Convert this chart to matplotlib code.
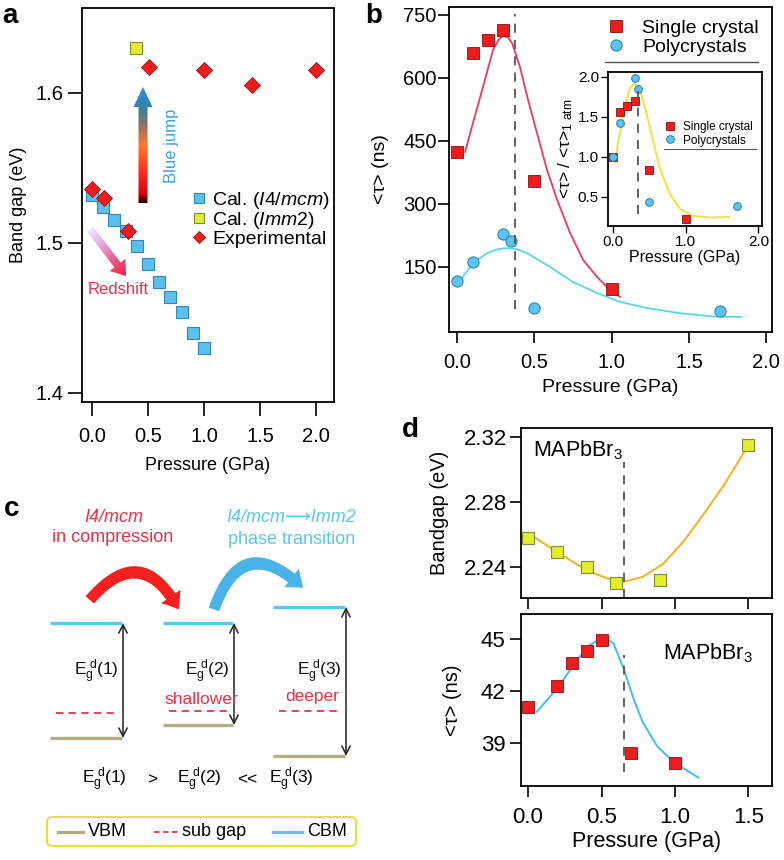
import numpy as np
import matplotlib
matplotlib.use("Agg")
import matplotlib.pyplot as plt
from matplotlib.patches import Polygon, FancyArrowPatch, FancyBboxPatch
from matplotlib.colors import LinearSegmentedColormap
from matplotlib.ticker import FormatStrFormatter, FixedLocator

plt.rcParams["font.family"] = ["Liberation Sans", "DejaVu Sans"]
plt.rcParams["mathtext.fontset"] = "custom"
plt.rcParams["mathtext.rm"] = "Liberation Sans"
plt.rcParams["mathtext.it"] = "Liberation Sans:italic"
plt.rcParams["axes.linewidth"] = 1.3

# ---- panel a: band gap vs pressure ----
a_cal_i4_p = [0.0, 0.1, 0.2, 0.3, 0.4, 0.5, 0.6, 0.7, 0.8, 0.9, 1.0]
a_cal_i4_gap = [1.532, 1.524, 1.515, 1.508, 1.498, 1.486, 1.474, 1.464, 1.454, 1.440, 1.430]
a_cal_imm2_p = [0.39]
a_cal_imm2_gap = [1.630]
a_exp_p = [0.0, 0.11, 0.32, 0.51, 1.0, 1.43, 2.0]
a_exp_gap = [1.536, 1.530, 1.508, 1.617, 1.615, 1.605, 1.615]

# ---- panel b: lifetime vs pressure ----
b_single_p = [0.0, 0.1, 0.2, 0.3, 0.5, 1.0]
b_single_tau = [424, 660, 690, 714, 355, 98]
b_poly_p = [0.0, 0.1, 0.3, 0.35, 0.5, 1.7]
b_poly_tau = [117, 162, 228, 212, 52, 45]
b_single_fit_p = [0.052, 0.103, 0.168, 0.233, 0.27, 0.298, 0.33, 0.356, 0.407, 0.459,
                  0.517, 0.582, 0.647, 0.731, 0.815, 0.906, 0.990, 1.054]
b_single_fit_tau = [424, 493, 579, 667, 692, 700, 697, 683, 626, 548,
                    469, 381, 310, 231, 167, 126, 95, 79]
b_poly_fit_p = [0.032, 0.103, 0.194, 0.26, 0.323, 0.39, 0.453, 0.602, 0.75, 0.906,
                1.054, 1.23, 1.44, 1.66, 1.84]
b_poly_fit_tau = [124, 159, 183, 192, 195, 192, 183, 150, 114, 88, 67, 52, 40, 32, 31]

# inset: normalised lifetime
ins_single_p = [0.0, 0.1, 0.2, 0.3, 0.5, 1.0]
ins_single_ratio = [1.0, 1.56, 1.63, 1.70, 0.84, 0.22]
ins_poly_p = [0.0, 0.1, 0.3, 0.35, 0.5, 1.7]
ins_poly_ratio = [1.0, 1.42, 1.98, 1.85, 0.43, 0.38]
ins_fit_p = [0.027, 0.07, 0.14, 0.21, 0.25, 0.29, 0.33, 0.36, 0.44, 0.53, 0.64, 0.78,
             0.92, 1.10, 1.37, 1.60]
ins_fit_ratio = [0.93, 1.17, 1.50, 1.80, 1.88, 1.91, 1.89, 1.86, 1.62, 1.29, 0.87, 0.54,
                 0.35, 0.26, 0.24, 0.25]

# ---- panel d: MAPbBr3 ----
d_gap_p = [0.0, 0.2, 0.4, 0.6, 0.9, 1.5]
d_gap = [2.258, 2.249, 2.240, 2.230, 2.232, 2.315]
d_gap_fit_p = [0.0, 0.2, 0.4, 0.54, 0.65, 0.78, 0.92, 1.06, 1.19, 1.33, 1.5]
d_gap_fit = [2.261, 2.249, 2.238, 2.233, 2.231, 2.234, 2.242, 2.256, 2.272, 2.290, 2.315]
d_tau_p = [0.0, 0.2, 0.3, 0.4, 0.5, 0.7, 1.0]
d_tau = [41.08, 42.29, 43.63, 44.33, 44.94, 38.44, 37.83]
d_tau_fit_p = [0.06, 0.2, 0.334, 0.42, 0.51, 0.58, 0.65, 0.72, 0.78, 0.88, 0.99, 1.16]
d_tau_fit = [40.8, 42.17, 43.79, 44.65, 45.1, 44.77, 43.3, 41.5, 40.2, 38.8, 37.9, 37.0]

W, H = 784, 860
BLUE_SQ = dict(marker="s", ls="none", mfc="#5cc0ec", mec="#2f86b8", mew=0.8)
RED_SQ = dict(marker="s", ls="none", mfc="#ee1c1c", mec="#8a1010", mew=0.6)
YEL_SQ = dict(marker="s", ls="none", mfc="#e4ee2a", mec="#7e8c3e", mew=0.8)
CIRC = dict(marker="o", ls="none", mfc="#5cc4f0", mec="#2f86b8", mew=0.8)
DASH = dict(color="#555555", lw=1.3, ls=(0, (5, 4)))


def px_axes(fig, x0, y0, x1, y1):
    return fig.add_axes([x0 / W, 1 - y1 / H, (x1 - x0) / W, (y1 - y0) / H])


def style(ax, size, length=8, xpad=2, ypad=2):
    ax.tick_params(direction="out", length=length, width=1.2, labelsize=size,
                   top=False, right=False)
    ax.tick_params(axis="x", pad=xpad)
    ax.tick_params(axis="y", pad=ypad)


fig = plt.figure(figsize=(W / 100, H / 100), dpi=100)

# === panel a ===
ax_a = px_axes(fig, 82, 8, 334, 402)
ax_a.plot(a_cal_i4_p, a_cal_i4_gap, ms=9, label=r"Cal. ($\mathit{I4/mcm}$)", **BLUE_SQ)
ax_a.plot(a_cal_imm2_p, a_cal_imm2_gap, ms=9, label=r"Cal. ($\mathit{Imm2}$)", **YEL_SQ)
ax_a.plot(a_exp_p, a_exp_gap, marker="D", ls="none", ms=8.5, mfc="#ee1c1c", mec="#a01010",
          mew=0.6, label="Experimental")
ax_a.set_xlim(-0.089, 2.16)
ax_a.set_ylim(1.3938, 1.6565)
ax_a.xaxis.set_major_locator(FixedLocator([0.0, 0.5, 1.0, 1.5, 2.0]))
ax_a.yaxis.set_major_locator(FixedLocator([1.4, 1.5, 1.6]))
ax_a.xaxis.set_major_formatter(FormatStrFormatter("%.1f"))
style(ax_a, 14.5, length=10, xpad=8, ypad=3.5)
ax_a.set_xlabel("Pressure (GPa)", fontsize=13, labelpad=8)
ax_a.set_ylabel("Band gap (eV)", fontsize=13, labelpad=6)
ax_a.legend(loc="center left", bbox_to_anchor=(190 / W, 1 - 219 / H),
            bbox_transform=fig.transFigure, frameon=False, fontsize=14,
            handlelength=0.9, handletextpad=0.25, labelspacing=-0.05, borderpad=0,
            borderaxespad=0, markerscale=0.75)

# === panel b ===
ax_b = px_axes(fig, 449, 7, 772, 332)
ax_b.plot(b_single_fit_p, b_single_fit_tau, color="#ee3a5e", lw=1.3)
ax_b.plot(b_poly_fit_p, b_poly_fit_tau, color="#5ad6ea", lw=1.3)
ax_b.plot(b_single_p, b_single_tau, ms=8.5, label="Single crystal", **RED_SQ)
ax_b.plot(b_poly_p, b_poly_tau, ms=8, label="Polycrystals", **CIRC)
ax_b.axvline(0.375, ymin=0.07, ymax=0.98, **DASH)
ax_b.set_xlim(-0.052, 2.037)
ax_b.set_ylim(-4.8, 769)
ax_b.xaxis.set_major_locator(FixedLocator([0.0, 0.5, 1.0, 1.5, 2.0]))
ax_b.yaxis.set_major_locator(FixedLocator([150, 300, 450, 600, 750]))
ax_b.xaxis.set_major_formatter(FormatStrFormatter("%.1f"))
style(ax_b, 14.5, length=8, xpad=7, ypad=1)
ax_b.set_xlabel("Pressure (GPa)", fontsize=14, labelpad=5)
ax_b.set_ylabel("<τ> (ns)", fontsize=14, labelpad=10)
ax_b.legend(loc="center left", bbox_to_anchor=(604 / W, 1 - 37.5 / H),
            bbox_transform=fig.transFigure, frameon=False, fontsize=14,
            handlelength=1.2, handletextpad=0.75, labelspacing=0.05, borderpad=0,
            borderaxespad=0)

# inset
ax_i = px_axes(fig, 608, 72, 762, 226)
ax_i.plot(ins_fit_p, ins_fit_ratio, color="#ece43a", lw=1.4)
ax_i.plot(ins_single_p, ins_single_ratio, ms=5.5, label="Single crystal", **RED_SQ)
ax_i.plot(ins_poly_p, ins_poly_ratio, ms=5.5, label="Polycrystals", **CIRC)
ax_i.axvline(0.34, ymin=0.08, ymax=0.92, **DASH)
ax_i.set_xlim(-0.068, 2.05)
ax_i.set_ylim(0.135, 2.06)
ax_i.xaxis.set_major_locator(FixedLocator([0.0, 1.0, 2.0]))
ax_i.yaxis.set_major_locator(FixedLocator([0.5, 1.0, 1.5, 2.0]))
ax_i.xaxis.set_major_formatter(FormatStrFormatter("%.1f"))
ax_i.tick_params(direction="out", length=5, width=1.0, labelsize=11, pad=1.5,
                 top=False, right=False)
ax_i.set_xlabel("Pressure (GPa)", fontsize=11.5, labelpad=1)
ax_i.set_ylabel(r"<τ> / <τ>$_{\mathregular{1\ atm}}$", fontsize=12.5, labelpad=2)
ax_i.legend(loc="center left", bbox_to_anchor=(664 / W, 1 - 134 / H),
            bbox_transform=fig.transFigure, frameon=False, fontsize=8.5,
            handlelength=1.0, handletextpad=0.6, labelspacing=0.1, borderpad=0,
            borderaxespad=0)

# === panel d ===
ax_dt = px_axes(fig, 521, 428, 772, 598)
ax_dt.plot(d_gap_fit_p, d_gap_fit, color="#f4b21a", lw=1.4)
ax_dt.plot(d_gap_p, d_gap, ms=9, **YEL_SQ)
ax_dt.axvline(0.65, ymin=0.0, ymax=0.8, **DASH)
ax_dt.set_xlim(-0.048, 1.66)
ax_dt.set_ylim(2.221, 2.3255)
ax_dt.xaxis.set_major_locator(FixedLocator([0.0, 0.5, 1.0, 1.5]))
ax_dt.yaxis.set_major_locator(FixedLocator([2.24, 2.28, 2.32]))
ax_dt.yaxis.set_major_formatter(FormatStrFormatter("%.2f"))
style(ax_dt, 16, length=8)
ax_dt.tick_params(axis="x", labelbottom=False)
ax_dt.set_ylabel("Bandgap (eV)", fontsize=14.5, labelpad=11)
ax_dt.text(0.048, 0.87, r"MAPbBr$_3$", transform=ax_dt.transAxes, fontsize=15.5,
           va="center", ha="left")

ax_db = px_axes(fig, 521, 614, 772, 786)
ax_db.plot(d_tau_fit_p, d_tau_fit, color="#44bcec", lw=1.4)
ax_db.plot(d_tau_p, d_tau, ms=9, **RED_SQ)
ax_db.axvline(0.65, ymin=0.08, ymax=0.76, **DASH)
ax_db.set_xlim(-0.048, 1.66)
ax_db.set_ylim(36.52, 46.44)
ax_db.xaxis.set_major_locator(FixedLocator([0.0, 0.5, 1.0, 1.5]))
ax_db.yaxis.set_major_locator(FixedLocator([39, 42, 45]))
ax_db.xaxis.set_major_formatter(FormatStrFormatter("%.1f"))
style(ax_db, 16, length=8, xpad=7, ypad=3)
ax_db.set_xlabel("Pressure (GPa)", fontsize=15.5, labelpad=2)
ax_db.set_ylabel("<τ> (ns)", fontsize=14.5, labelpad=14)
ax_db.text(0.925, 0.77, r"MAPbBr$_3$", transform=ax_db.transAxes, fontsize=15.5,
           va="center", ha="right")

# === overlay in pixel coordinates: gradient arrows, panel c, letters ===
ov = fig.add_axes([0, 0, 1, 1])
ov.patch.set_alpha(0)
ov.axis("off")


def gradient_arrow(ax, x0, y0, x1, y1, shaft_w, head_w, head_len, stops):
    p0, p1 = np.array([x0, y0], float), np.array([x1, y1], float)
    L = np.hypot(*(p1 - p0))
    u = (p1 - p0) / L
    n = np.array([-u[1], u[0]])
    pb = p0 + u * (L - head_len)
    pts = np.array([p0 + n * shaft_w / 2, pb + n * shaft_w / 2, pb + n * head_w / 2, p1,
                    pb - n * head_w / 2, pb - n * shaft_w / 2, p0 - n * shaft_w / 2])
    poly = Polygon(pts, closed=True, fc="none", ec="none")
    ax.add_patch(poly)
    xmin, ymin = pts.min(axis=0) - 1
    xmax, ymax = pts.max(axis=0) + 1
    gx, gy = np.meshgrid(np.linspace(xmin, xmax, 200), np.linspace(ymin, ymax, 200))
    t = ((gx - x0) * u[0] + (gy - y0) * u[1]) / L
    cmap = LinearSegmentedColormap.from_list("g", stops)
    im = ax.imshow(t, extent=(xmin, xmax, ymin, ymax), origin="lower", cmap=cmap,
                   vmin=0, vmax=1, aspect="auto", interpolation="bilinear")
    im.set_clip_path(poly)


gradient_arrow(ov, 143, 203, 143, 87, 9, 19, 20,
               [(0, "#200000"), (0.08, "#e00010"), (0.3, "#ff3a1a"), (0.5, "#ff7a2a"),
                (0.65, "#a0705a"), (0.8, "#3a8098"), (1, "#2a8ee8")])
gradient_arrow(ov, 90, 229, 126, 276, 8, 20, 14,
               [(0, "#ececff"), (0.35, "#e8a0d8"), (0.7, "#f05080"), (1, "#f02040")])
ov.text(172, 146, "Blue jump", rotation=90, color="#3aa2ea", fontsize=12,
        ha="center", va="center")
ov.text(118, 290, "Redshift", color="#f0304a", fontsize=12, ha="center", va="center")

# panel b legend underlines
ov.plot([605, 758], [62, 62], color="#555555", lw=1.0)
ov.plot([664, 756], [149, 149], color="#555555", lw=0.8)

# --- panel c schematic ---
RED_T, CYAN_T = "#ee3048", "#5ac8ec"
CBM_C, VBM_C, SUB_C = "#5ac8ec", "#b4ac84", "#ee3048"
ov.text(114, 517, "I4/mcm", color=RED_T, style="italic", fontsize=13, ha="center", va="center")
ov.text(113, 538, "in compression", color=RED_T, fontsize=13, ha="center", va="center")
ov.text(291, 517, "I4/mcm\u27f6Imm2", color=CYAN_T, style="italic", fontsize=13,
        ha="center", va="center")
ov.text(292, 539, "phase transition", color=CYAN_T, fontsize=13, ha="center", va="center")

ov.add_patch(FancyArrowPatch((88, 602), (180, 612), connectionstyle="arc3,rad=-0.75",
                             arrowstyle="simple,head_width=17,head_length=11,tail_width=8",
                             color="#f42020", lw=0))
ov.add_patch(FancyArrowPatch((213, 612), (305, 590), connectionstyle="arc3,rad=-0.8",
                             arrowstyle="simple,head_width=17,head_length=11,tail_width=8",
                             color="#4ab4ea", lw=0))

levels = [  # x0, x1, cbm, vbm, sub, label, note, note_y
    (50, 122, 623, 738, 713, "1", None, 0),
    (163, 233, 623, 725, 711, "2", "shallower", 700),
    (273, 345, 607, 756, 711, "3", "deeper", 697),
]
for x0, x1, cbm, vbm, sub, lab, note, ny in levels:
    ov.plot([x0, x1], [cbm, cbm], color=CBM_C, lw=2.4, solid_capstyle="butt")
    ov.plot([x0, x1], [vbm, vbm], color=VBM_C, lw=2.4, solid_capstyle="butt")
    ov.plot([x0 + 6, x1 - 4], [sub, sub], color=SUB_C, lw=1.3, ls=(0, (4, 3)))
    ov.add_patch(FancyArrowPatch((x1 + 1, cbm), (x1 + 1, vbm),
                                 arrowstyle="<->,head_width=3,head_length=6",
                                 color="#222222", lw=1.1, shrinkA=0, shrinkB=0))
    ov.text(x1 - 3, 672, r"$\mathregular{E_g^{\ d}}$(" + lab + ")", fontsize=12.5,
            ha="right", va="center", color="#111111")
    if note:
        ov.text((x0 + x1) / 2 + 3, ny, note, color=SUB_C, fontsize=12.5, ha="center",
                va="center")

ov.text(104, 780, r"$\mathregular{E_g^{\ d}}$(1)", fontsize=12.5, ha="center", va="center")
ov.text(152, 780, ">", fontsize=12.5, ha="center", va="center")
ov.text(199, 780, r"$\mathregular{E_g^{\ d}}$(2)", fontsize=12.5, ha="center", va="center")
ov.text(247, 780, "<<", fontsize=12.5, ha="center", va="center")
ov.text(291, 780, r"$\mathregular{E_g^{\ d}}$(3)", fontsize=12.5, ha="center", va="center")

ov.add_patch(FancyBboxPatch((47, 817), 309, 29, boxstyle="round,pad=0,rounding_size=5",
                            fc="white", ec="#e6e23a", lw=1.5))
ov.plot([58, 83], [832, 832], color=VBM_C, lw=2.4)
ov.text(88, 832, "VBM", fontsize=13, va="center", ha="left")
ov.plot([154, 180], [832, 832], color=SUB_C, lw=1.3, ls=(0, (3, 2)))
ov.text(182, 832, "sub gap", fontsize=13, va="center", ha="left")
ov.plot([273, 302], [832, 832], color=CBM_C, lw=2.4)
ov.text(307, 832, "CBM", fontsize=13, va="center", ha="left")

# panel letters
for lx, ly, letter in [(10, 16, "a"), (374, 16, "b"), (12, 509, "c"), (410, 430, "d")]:
    ov.text(lx, ly, letter, fontsize=20, fontweight="bold", ha="center", va="center")

ov.set_xlim(0, W)
ov.set_ylim(H, 0)

fig.savefig("out.png", dpi=100)
